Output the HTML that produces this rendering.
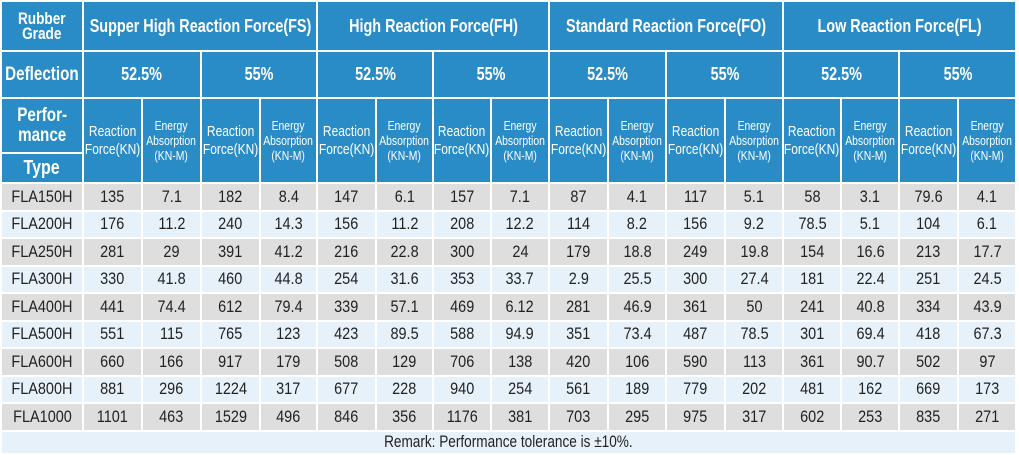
<!DOCTYPE html>
<html><head><style>
html,body{margin:0;padding:0;background:#fff;width:1019px;height:454px;overflow:hidden}
table{position:absolute;left:0;top:0;border-collapse:collapse;table-layout:fixed;width:1015px;font-family:"Liberation Sans",sans-serif}
td{border:2px solid #fff;text-align:center;padding:0;overflow:visible;white-space:nowrap}
td span{display:inline-block;transform:scaleX(0.8);transform-origin:center;margin:0 -40px}
.h{background:#2a8cc6;color:#fff;font-weight:bold}
.h1{font-size:18px}
.sm{font-size:15px;font-weight:normal;line-height:18px}
.sm2{font-size:13px;font-weight:normal;line-height:15px}
.d td{height:25.5px;font-size:17px;color:#222}
.d td span{transform:scaleX(0.85)}
.g td{background:#dedede}
.l td{background:#e6f1fa}
.rm td{background:#e6f1fa;font-size:17px;color:#222;height:21px}
</style></head><body>
<table>
<colgroup><col style="width:82px">
<col style="width:59px"><col style="width:59px"><col style="width:59px"><col style="width:57px">
<col style="width:59px"><col style="width:57px"><col style="width:58px"><col style="width:58px">
<col style="width:59px"><col style="width:58px"><col style="width:59px"><col style="width:58px">
<col style="width:58px"><col style="width:58px"><col style="width:59px"><col style="width:58px">
</colgroup>
<tr style="height:50px"><td class="h" style="font-size:17px;line-height:15px"><span>Rubber<br>Grade</span></td>
<td class="h h1" colspan="4"><span>Supper High Reaction Force(FS)</span></td>
<td class="h h1" colspan="4"><span>High Reaction Force(FH)</span></td>
<td class="h h1" colspan="4"><span>Standard Reaction Force(FO)</span></td>
<td class="h h1" colspan="4"><span>Low Reaction Force(FL)</span></td></tr>
<tr style="height:47px"><td class="h" style="font-size:19px"><span>Deflection</span></td>
<td class="h h1" colspan="2"><span>52.5%</span></td><td class="h h1" colspan="2"><span>55%</span></td>
<td class="h h1" colspan="2"><span>52.5%</span></td><td class="h h1" colspan="2"><span>55%</span></td>
<td class="h h1" colspan="2"><span>52.5%</span></td><td class="h h1" colspan="2"><span>55%</span></td>
<td class="h h1" colspan="2"><span>52.5%</span></td><td class="h h1" colspan="2"><span>55%</span></td></tr>
<tr style="height:55px"><td class="h" style="font-size:19px;line-height:20px"><span>Perfor-<br>mance</span></td>
<td class="h sm" rowspan="2"><span>Reaction<br>Force(KN)</span></td><td class="h sm2" rowspan="2"><span>Energy<br>Absorption<br>(KN-M)</span></td>
<td class="h sm" rowspan="2"><span>Reaction<br>Force(KN)</span></td><td class="h sm2" rowspan="2"><span>Energy<br>Absorption<br>(KN-M)</span></td>
<td class="h sm" rowspan="2"><span>Reaction<br>Force(KN)</span></td><td class="h sm2" rowspan="2"><span>Energy<br>Absorption<br>(KN-M)</span></td>
<td class="h sm" rowspan="2"><span>Reaction<br>Force(KN)</span></td><td class="h sm2" rowspan="2"><span>Energy<br>Absorption<br>(KN-M)</span></td>
<td class="h sm" rowspan="2"><span>Reaction<br>Force(KN)</span></td><td class="h sm2" rowspan="2"><span>Energy<br>Absorption<br>(KN-M)</span></td>
<td class="h sm" rowspan="2"><span>Reaction<br>Force(KN)</span></td><td class="h sm2" rowspan="2"><span>Energy<br>Absorption<br>(KN-M)</span></td>
<td class="h sm" rowspan="2"><span>Reaction<br>Force(KN)</span></td><td class="h sm2" rowspan="2"><span>Energy<br>Absorption<br>(KN-M)</span></td>
<td class="h sm" rowspan="2"><span>Reaction<br>Force(KN)</span></td><td class="h sm2" rowspan="2"><span>Energy<br>Absorption<br>(KN-M)</span></td></tr>
<tr style="height:30px"><td class="h" style="font-size:20px"><span>Type</span></td></tr>
<tr class="d g"><td><span>FLA150H</span></td><td><span>135</span></td><td><span>7.1</span></td><td><span>182</span></td><td><span>8.4</span></td><td><span>147</span></td><td><span>6.1</span></td><td><span>157</span></td><td><span>7.1</span></td><td><span>87</span></td><td><span>4.1</span></td><td><span>117</span></td><td><span>5.1</span></td><td><span>58</span></td><td><span>3.1</span></td><td><span>79.6</span></td><td><span>4.1</span></td></tr>
<tr class="d l"><td><span>FLA200H</span></td><td><span>176</span></td><td><span>11.2</span></td><td><span>240</span></td><td><span>14.3</span></td><td><span>156</span></td><td><span>11.2</span></td><td><span>208</span></td><td><span>12.2</span></td><td><span>114</span></td><td><span>8.2</span></td><td><span>156</span></td><td><span>9.2</span></td><td><span>78.5</span></td><td><span>5.1</span></td><td><span>104</span></td><td><span>6.1</span></td></tr>
<tr class="d g"><td><span>FLA250H</span></td><td><span>281</span></td><td><span>29</span></td><td><span>391</span></td><td><span>41.2</span></td><td><span>216</span></td><td><span>22.8</span></td><td><span>300</span></td><td><span>24</span></td><td><span>179</span></td><td><span>18.8</span></td><td><span>249</span></td><td><span>19.8</span></td><td><span>154</span></td><td><span>16.6</span></td><td><span>213</span></td><td><span>17.7</span></td></tr>
<tr class="d l"><td><span>FLA300H</span></td><td><span>330</span></td><td><span>41.8</span></td><td><span>460</span></td><td><span>44.8</span></td><td><span>254</span></td><td><span>31.6</span></td><td><span>353</span></td><td><span>33.7</span></td><td><span>2.9</span></td><td><span>25.5</span></td><td><span>300</span></td><td><span>27.4</span></td><td><span>181</span></td><td><span>22.4</span></td><td><span>251</span></td><td><span>24.5</span></td></tr>
<tr class="d g"><td><span>FLA400H</span></td><td><span>441</span></td><td><span>74.4</span></td><td><span>612</span></td><td><span>79.4</span></td><td><span>339</span></td><td><span>57.1</span></td><td><span>469</span></td><td><span>6.12</span></td><td><span>281</span></td><td><span>46.9</span></td><td><span>361</span></td><td><span>50</span></td><td><span>241</span></td><td><span>40.8</span></td><td><span>334</span></td><td><span>43.9</span></td></tr>
<tr class="d l"><td><span>FLA500H</span></td><td><span>551</span></td><td><span>115</span></td><td><span>765</span></td><td><span>123</span></td><td><span>423</span></td><td><span>89.5</span></td><td><span>588</span></td><td><span>94.9</span></td><td><span>351</span></td><td><span>73.4</span></td><td><span>487</span></td><td><span>78.5</span></td><td><span>301</span></td><td><span>69.4</span></td><td><span>418</span></td><td><span>67.3</span></td></tr>
<tr class="d g"><td><span>FLA600H</span></td><td><span>660</span></td><td><span>166</span></td><td><span>917</span></td><td><span>179</span></td><td><span>508</span></td><td><span>129</span></td><td><span>706</span></td><td><span>138</span></td><td><span>420</span></td><td><span>106</span></td><td><span>590</span></td><td><span>113</span></td><td><span>361</span></td><td><span>90.7</span></td><td><span>502</span></td><td><span>97</span></td></tr>
<tr class="d l"><td><span>FLA800H</span></td><td><span>881</span></td><td><span>296</span></td><td><span>1224</span></td><td><span>317</span></td><td><span>677</span></td><td><span>228</span></td><td><span>940</span></td><td><span>254</span></td><td><span>561</span></td><td><span>189</span></td><td><span>779</span></td><td><span>202</span></td><td><span>481</span></td><td><span>162</span></td><td><span>669</span></td><td><span>173</span></td></tr>
<tr class="d g"><td><span>FLA1000</span></td><td><span>1101</span></td><td><span>463</span></td><td><span>1529</span></td><td><span>496</span></td><td><span>846</span></td><td><span>356</span></td><td><span>1176</span></td><td><span>381</span></td><td><span>703</span></td><td><span>295</span></td><td><span>975</span></td><td><span>317</span></td><td><span>602</span></td><td><span>253</span></td><td><span>835</span></td><td><span>271</span></td></tr>
<tr class="rm"><td colspan="17"><span>Remark: Performance tolerance is ±10%.</span></td></tr>
</table>
</body></html>
